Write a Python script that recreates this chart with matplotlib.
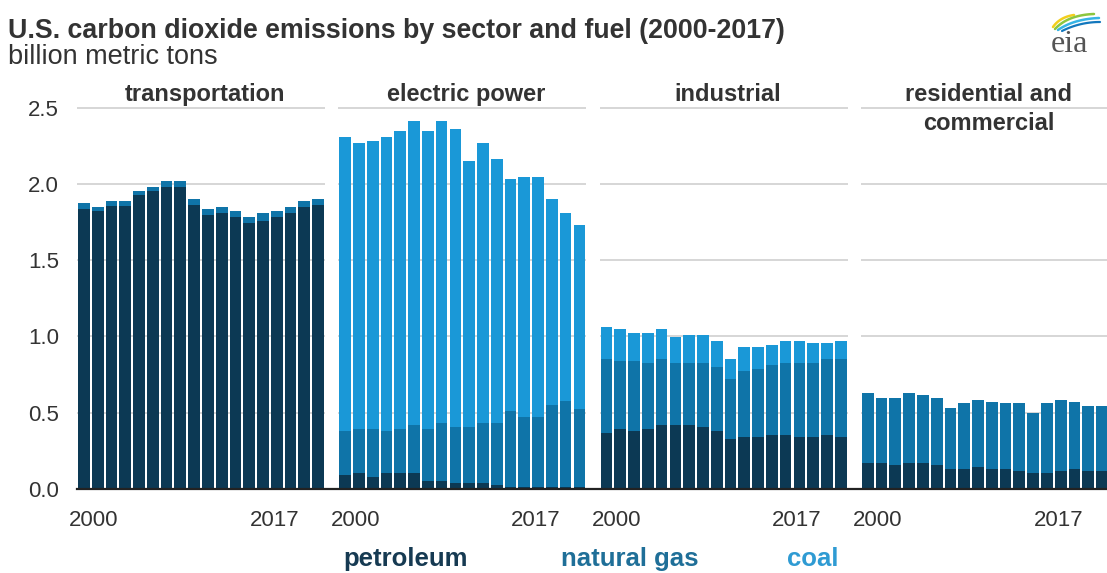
import numpy as np
import matplotlib
matplotlib.use("Agg")
import matplotlib.pyplot as plt
from matplotlib.lines import Line2D

plt.rcParams['font.family'] = ['Liberation Sans', 'DejaVu Sans']

# ---------------- data (billion metric tons) ----------------
years = list(range(2000, 2018))
sectors = ["transportation", "electric power", "industrial", "residential and\ncommercial"]
fuels = ["petroleum", "natural gas", "coal"]

transport_petroleum = [1.835, 1.820, 1.857, 1.857, 1.925, 1.950, 1.977, 1.977, 1.859,
                       1.794, 1.807, 1.780, 1.741, 1.758, 1.780, 1.807, 1.846, 1.859]
transport_gas = [0.037, 0.026, 0.028, 0.028, 0.025, 0.027, 0.039, 0.039, 0.039,
                 0.039, 0.039, 0.040, 0.039, 0.049, 0.040, 0.039, 0.039, 0.039]
transport_coal = [0.0] * 18

electric_petroleum = [0.090, 0.103, 0.077, 0.103, 0.103, 0.103, 0.050, 0.050, 0.037,
                      0.037, 0.037, 0.024, 0.015, 0.015, 0.015, 0.015, 0.012, 0.012]
electric_gas = [0.288, 0.288, 0.314, 0.275, 0.288, 0.314, 0.341, 0.380, 0.367,
                0.367, 0.393, 0.406, 0.494, 0.455, 0.455, 0.533, 0.563, 0.510]
electric_coal = [1.927, 1.874, 1.887, 1.927, 1.953, 1.993, 1.953, 1.980, 1.953,
                 1.743, 1.835, 1.731, 1.521, 1.573, 1.573, 1.350, 1.232, 1.206]

industrial_petroleum = [0.365, 0.391, 0.378, 0.391, 0.417, 0.417, 0.417, 0.404, 0.378,
                        0.326, 0.339, 0.339, 0.352, 0.352, 0.339, 0.339, 0.352, 0.339]
industrial_gas = [0.485, 0.446, 0.459, 0.433, 0.433, 0.407, 0.407, 0.420, 0.419,
                  0.393, 0.432, 0.445, 0.458, 0.472, 0.485, 0.485, 0.498, 0.511]
industrial_coal = [0.210, 0.210, 0.183, 0.196, 0.197, 0.170, 0.183, 0.183, 0.171,
                   0.131, 0.158, 0.145, 0.132, 0.144, 0.144, 0.131, 0.105, 0.118]

rescom_petroleum = [0.168, 0.168, 0.155, 0.168, 0.168, 0.155, 0.129, 0.129, 0.142,
                    0.129, 0.129, 0.116, 0.103, 0.103, 0.116, 0.129, 0.116, 0.116]
rescom_gas = [0.459, 0.428, 0.441, 0.459, 0.446, 0.441, 0.404, 0.432, 0.443,
              0.443, 0.432, 0.445, 0.393, 0.458, 0.469, 0.443, 0.430, 0.430]
rescom_coal = [0.0] * 18

yticks = [0.0, 0.5, 1.0, 1.5, 2.0, 2.5]
ytick_labels = ["0.0", "0.5", "1.0", "1.5", "2.0", "2.5"]
year_labels = ["2000", "2017"]

sector_data = [
    (transport_petroleum, transport_gas, transport_coal),
    (electric_petroleum, electric_gas, electric_coal),
    (industrial_petroleum, industrial_gas, industrial_coal),
    (rescom_petroleum, rescom_gas, rescom_coal),
]

# ---------------- style ----------------
C_PET = "#0c3954"
C_GAS = "#0f74a8"
C_COAL = "#1a98d7"
fuel_colors = [C_PET, C_GAS, C_COAL]
TXT = "#333333"
GRID = "#cfcfcf"

W, H = 1107, 573
fig = plt.figure(figsize=(W / 100, H / 100), dpi=100)


def fx(x):
    return x / W


def fy(y):
    return 1 - y / H


zero_px = 489.0
unit_px = 152.6
ytop = 2.52
panel_w = 248.0
panel_lefts = [77.0, 338.3, 599.6, 860.9]

for i, (left, name, data) in enumerate(zip(panel_lefts, sectors, sector_data)):
    ax = fig.add_axes([fx(left), fy(zero_px), panel_w / W, ytop * unit_px / H])
    x = np.arange(len(years))
    bottom = np.zeros(len(years))
    for vals, col in zip(data, fuel_colors):
        v = np.array(vals)
        ax.bar(x, v, width=0.85, bottom=bottom, color=col, linewidth=0, zorder=2)
        bottom = bottom + v
    ax.set_xlim(-0.5, len(years) - 0.5)
    ax.set_ylim(0, ytop)
    ax.set_yticks(yticks)
    for yv in yticks[1:]:
        ax.axhline(yv, color=GRID, lw=1.2, zorder=1)
    for s in ax.spines.values():
        s.set_visible(False)
    ax.tick_params(axis='both', length=0)
    if i == 0:
        ax.set_yticklabels(ytick_labels, fontsize=16, color=TXT)
        ax.tick_params(axis='y', pad=13)
    else:
        ax.set_yticklabels([])
    ax.set_xticks([0.73, 13.83])
    ax.set_xticklabels(year_labels, fontsize=16, color=TXT)
    ax.tick_params(axis='x', pad=15)
    ax.set_facecolor('none')
    # panel title
    lines = name.split("\n")
    cx = left + panel_w / 2 + 4
    for k, ln in enumerate(lines):
        fig.text(fx(cx), fy(101 + 29 * k), ln, ha='center', va='baseline',
                 fontsize=17, fontweight='bold', color=TXT)

# continuous baseline
fig.add_artist(Line2D([fx(77), 1.0], [fy(zero_px), fy(zero_px)], color="#222222", lw=1.6))

# titles
fig.text(fx(8), fy(38), "U.S. carbon dioxide emissions by sector and fuel (2000-2017)",
         ha='left', va='baseline', fontsize=19.3, fontweight='bold', color=TXT)
fig.text(fx(8), fy(64), "billion metric tons", ha='left', va='baseline',
         fontsize=19.5, color=TXT)

# legend as colored words
legend_pos = [343, 561, 787]
for xp, lab, col in zip(legend_pos, fuels, ["#163a52", "#1f6f98", "#2f9bd3"]):
    fig.text(fx(xp), fy(566), lab, ha='left', va='baseline', fontsize=18.5,
             fontweight='bold', color=col)

# eia logo
lax = fig.add_axes([fx(1038), fy(60), (1107 - 1038) / W, 55 / H])
lax.set_xlim(1038, 1107)
lax.set_ylim(60, 5)
lax.axis('off')
t = np.linspace(0, 1, 40)


def bez(p0, p1, p2):
    return ((1 - t) ** 2 * p0[0] + 2 * (1 - t) * t * p1[0] + t ** 2 * p2[0],
            (1 - t) ** 2 * p0[1] + 2 * (1 - t) * t * p1[1] + t ** 2 * p2[1])


for (p0, p1, p2, col, lw) in [
    ((1053, 27), (1060, 17), (1074, 15), "#f2cf1d", 1.8),
    ((1055, 29), (1068, 15), (1094, 14), "#8cc63f", 1.8),
    ((1058, 30), (1074, 19), (1099, 18), "#36b4e5", 1.8),
    ((1062, 31), (1080, 22), (1100, 22), "#1277bd", 1.6),
]:
    bx, by = bez(p0, p1, p2)
    lax.plot(bx, by, color=col, lw=lw, solid_capstyle='round')
lax.text(1069, 52, "eia", ha='center', va='baseline', fontsize=23,
         family=['Liberation Serif', 'DejaVu Serif'], color="#555555")

fig.savefig("out.png", dpi=100)
